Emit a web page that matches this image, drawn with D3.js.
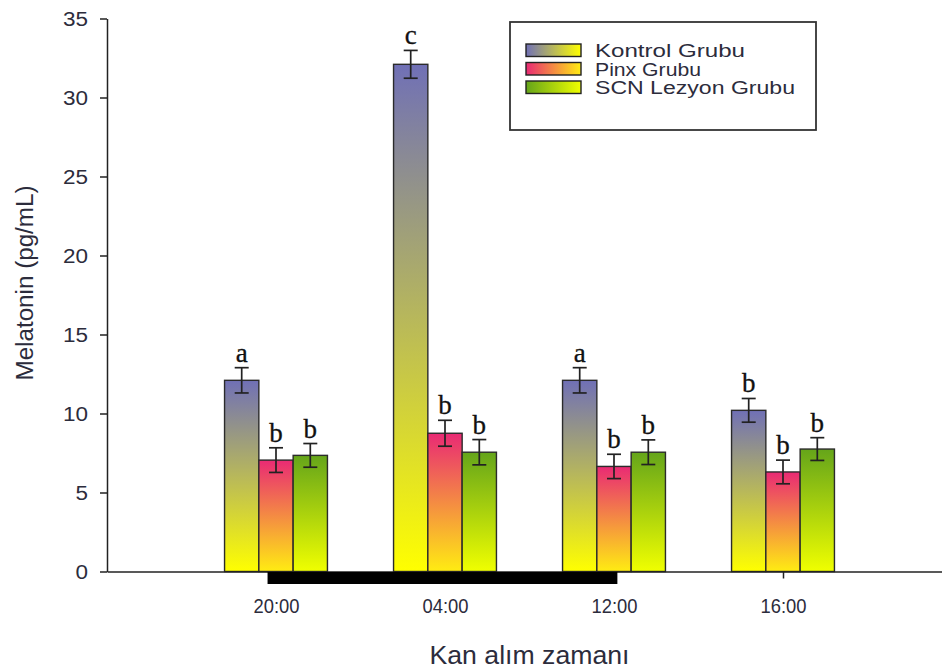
<!DOCTYPE html>
<html>
<head>
<meta charset="utf-8">
<script src="https://cdn.jsdelivr.net/npm/d3@7"></script>
<style>
  body { margin: 0; background: #fff; }
  svg { display: block; }
</style>
</head>
<body>
<svg width="942" height="670"></svg>
<script>
/* Data */

var times    = ["20:00", "04:00", "12:00", "16:00"];
var groups   = ["Kontrol Grubu", "Pinx Grubu", "SCN Lezyon Grubu"];
var kontrol  = [12.1, 32.1, 12.1, 10.2];
var pinx     = [7.05, 8.75, 6.65, 6.3];
var scn      = [7.35, 7.55, 7.55, 7.75];
var kontrolErr = [0.8, 0.88, 0.8, 0.75];
var pinxErr    = [0.78, 0.82, 0.77, 0.75];
var scnErr     = [0.75, 0.8, 0.78, 0.72];
var kontrolSig = ["a", "c", "a", "b"];
var pinxSig    = ["b", "b", "b", "b"];
var scnSig     = ["b", "b", "b", "b"];
var yTicks   = [0, 5, 10, 15, 20, 25, 30, 35];
var darkPeriod = [0.95, 3.02]; // in time-slot units

/* Setup */

var svg = d3.select("svg");

// note: "top" is a reserved window property, so use plot* names
var plotL = 107, plotR = 952, plotT = 18.5, plotB = 571.5,
    barW = 34.3;

var x = d3.scaleLinear().domain([0, times.length + 1]).range([plotL, plotR]);
var y = d3.scaleLinear().domain([0, 35]).range([plotB, plotT]);

var colors = [
  {top: "#7070b6", bottom: "#ffff00"},
  {top: "#e92a74", bottom: "#ffec12"},
  {top: "#65a51a", bottom: "#f0ff00"}
];

var series = [
  {vals: kontrol, err: kontrolErr, sig: kontrolSig},
  {vals: pinx,    err: pinxErr,    sig: pinxSig},
  {vals: scn,     err: scnErr,     sig: scnSig}
];

var defs = svg.append("defs");
colors.forEach((c, i) => {
  var gv = defs.append("linearGradient")
    .attr("id", "gv" + i)
    .attr("x1", 0).attr("y1", 0).attr("x2", 0).attr("y2", 1);
  gv.append("stop").attr("offset", "0%").attr("stop-color", c.top);
  gv.append("stop").attr("offset", "100%").attr("stop-color", c.bottom);

  var gh = defs.append("linearGradient")
    .attr("id", "gh" + i)
    .attr("x1", 0).attr("y1", 0).attr("x2", 1).attr("y2", 0);
  gh.append("stop").attr("offset", "0%").attr("stop-color", c.top);
  gh.append("stop").attr("offset", "100%").attr("stop-color", c.bottom);
});

/* Bars */

var bars = [];
series.forEach((s, si) => {
  s.vals.forEach((v, ti) => {
    bars.push({
      si: si,
      cx: x(ti + 1) + (si - 1) * barW,
      v: v,
      err: s.err[ti],
      sig: s.sig[ti]
    });
  });
});

svg.selectAll(".bar")
  .data(bars)
  .enter().append("rect")
  .classed("bar", true)
  .attr("x", (d) => d.cx - barW / 2)
  .attr("y", (d) => y(d.v))
  .attr("width", barW)
  .attr("height", (d) => y(0) - y(d.v))
  .attr("fill", (d) => "url(#gv" + d.si + ")")
  .attr("stroke", "#2b2b2b")
  .attr("stroke-width", 1.4);

// error bars
var eb = svg.selectAll(".err")
  .data(bars)
  .enter().append("g")
  .classed("err", true)
  .attr("stroke", "#222")
  .attr("stroke-width", 1.7);

eb.append("line")
  .attr("x1", (d) => d.cx).attr("x2", (d) => d.cx)
  .attr("y1", (d) => y(d.v + d.err)).attr("y2", (d) => y(d.v - d.err));
eb.append("line")
  .attr("x1", (d) => d.cx - 7).attr("x2", (d) => d.cx + 7)
  .attr("y1", (d) => y(d.v + d.err)).attr("y2", (d) => y(d.v + d.err));
eb.append("line")
  .attr("x1", (d) => d.cx - 7).attr("x2", (d) => d.cx + 7)
  .attr("y1", (d) => y(d.v - d.err)).attr("y2", (d) => y(d.v - d.err));

// significance letters
svg.selectAll(".sig")
  .data(bars)
  .enter().append("text")
  .classed("sig", true)
  .attr("x", (d) => d.cx)
  .attr("y", (d) => y(d.v + d.err) - 6)
  .attr("text-anchor", "middle")
  .attr("font-family", "'Liberation Serif', 'DejaVu Serif', serif")
  .attr("font-size", 27)
  .attr("fill", "#111")
  .attr("stroke", "#111")
  .attr("stroke-width", 0.3)
  .text((d) => d.sig);

/* Axes */

var yAxis = svg.append("g")
  .attr("transform", "translate(" + plotL + ",0)")
  .call(d3.axisLeft(y).tickValues(yTicks).tickSize(7).tickSizeOuter(0).tickPadding(8));
yAxis.select(".domain").attr("stroke", "#222").attr("stroke-width", 1.5);
yAxis.selectAll(".tick line").attr("stroke", "#222").attr("stroke-width", 1.5);
yAxis.selectAll(".tick text")
  .attr("font-family", "Arial, 'Liberation Sans', sans-serif")
  .attr("font-size", 20)
  .attr("fill", "#2c2c3c")
  .attr("dy", "0.36em")
  .attr("x", -19)
  .attr("textLength", (d) => String(d).length * 12.5)
  .attr("lengthAdjust", "spacingAndGlyphs");

var xAxis = svg.append("g")
  .attr("transform", "translate(0," + plotB + ")")
  .call(d3.axisBottom(x).tickValues(times.map((t, i) => i + 1))
    .tickFormat((d) => times[d - 1]).tickSize(7).tickSizeOuter(0).tickPadding(20));
xAxis.select(".domain").attr("stroke", "#222").attr("stroke-width", 1.5);
xAxis.selectAll(".tick line").attr("stroke", "#222").attr("stroke-width", 1.5);
xAxis.selectAll(".tick text")
  .attr("font-family", "Arial, 'Liberation Sans', sans-serif")
  .attr("font-size", 21)
  .attr("fill", "#2c2c3c")
  .attr("textLength", 46)
  .attr("lengthAdjust", "spacingAndGlyphs");

// dark period bar
svg.append("rect")
  .attr("x", x(darkPeriod[0]))
  .attr("y", plotB + 0.5)
  .attr("width", x(darkPeriod[1]) - x(darkPeriod[0]))
  .attr("height", 12)
  .attr("fill", "#000");

// axis titles
svg.append("text")
  .attr("transform", "translate(33,283) rotate(-90)")
  .attr("text-anchor", "middle")
  .attr("font-family", "Arial, 'Liberation Sans', sans-serif")
  .attr("font-size", 23)
  .attr("fill", "#2c2c3c")
  .attr("textLength", 195)
  .attr("lengthAdjust", "spacingAndGlyphs")
  .text("Melatonin (pg/mL)");

svg.append("text")
  .attr("x", (plotL + plotR) / 2)
  .attr("y", 664)
  .attr("text-anchor", "middle")
  .attr("font-family", "Arial, 'Liberation Sans', sans-serif")
  .attr("font-size", 25)
  .attr("fill", "#2c2c3c")
  .attr("textLength", 200)
  .attr("lengthAdjust", "spacingAndGlyphs")
  .text("Kan alım zamanı");

/* Legend */

var legend = svg.append("g");
legend.append("rect")
  .attr("x", 510).attr("y", 22)
  .attr("width", 306).attr("height", 108)
  .attr("fill", "#fff")
  .attr("stroke", "#333")
  .attr("stroke-width", 1.8);

var legW = [150, 106, 200];
var item = legend.selectAll(".item")
  .data(groups)
  .enter().append("g")
  .classed("item", true)
  .attr("transform", (d, i) => "translate(526," + (44 + i * 18.5) + ")");

item.append("rect")
  .attr("width", 55).attr("height", 12.5)
  .attr("fill", (d, i) => "url(#gh" + i + ")")
  .attr("stroke", "#222")
  .attr("stroke-width", 1.4);

item.append("text")
  .attr("x", 69)
  .attr("y", 13)
  .attr("font-family", "Arial, 'Liberation Sans', sans-serif")
  .attr("font-size", 18)
  .attr("fill", "#2c2c3c")
  .attr("textLength", (d, i) => legW[i])
  .attr("lengthAdjust", "spacingAndGlyphs")
  .text((d) => d);
</script>
</body>
</html>
